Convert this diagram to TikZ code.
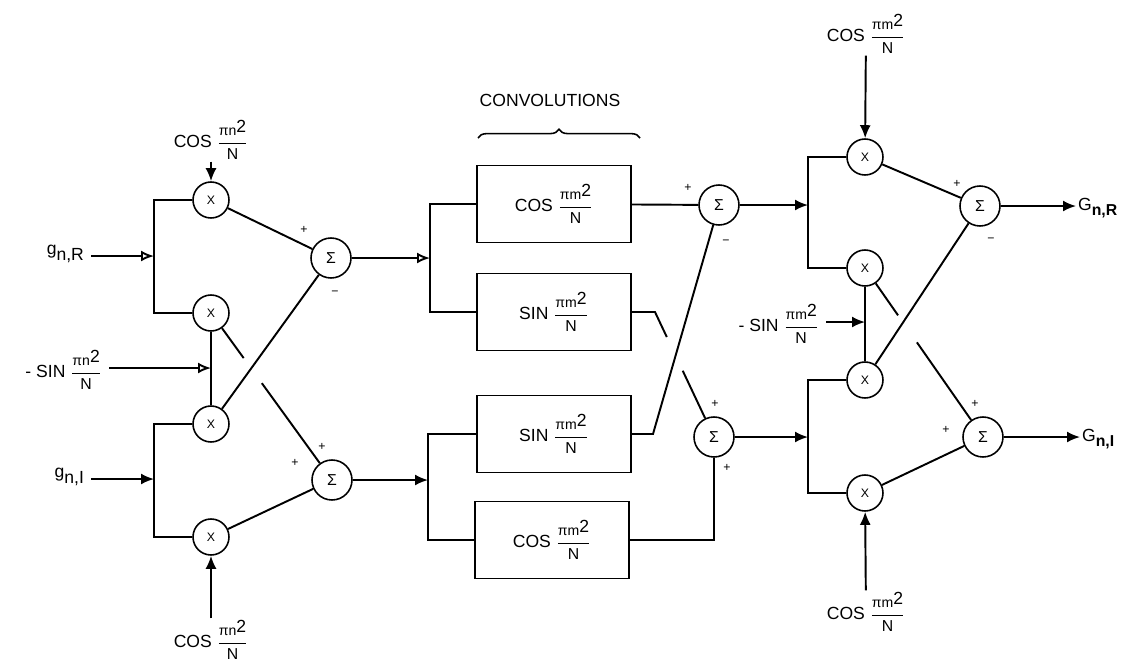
\documentclass[tikz,border=0pt]{standalone}
\usepackage{fontspec}
\usepackage{amsmath}
\setmainfont{Liberation Sans}
\usetikzlibrary{positioning,arrows.meta,calc,decorations.pathreplacing}

\newcommand{\ang}[1]{$\dfrac{\mbox{\footnotesize #1\raisebox{0.4ex}{\normalsize 2}}}{\mbox{\small N}}$}

\begin{document}
\begin{tikzpicture}[
        x=0.02cm, y=-0.02cm,
        mul/.style={
            circle,
            draw,
            line width=0.9pt,
            minimum size=0.72cm,
            inner sep=0pt,
            font=\scriptsize
        },
        sum/.style={
            circle,
            draw,
            line width=0.9pt,
            minimum size=0.8cm,
            inner sep=0pt,
            font=\small
        },
        box/.style={
            rectangle,
            draw,
            line width=1.1pt,
            minimum width=3.08cm,
            minimum height=1.54cm,
            align=center
        },
        wire/.style={line width=1.1pt},
        arrow/.style={wire, -{Latex[length=2.6mm, width=2.2mm]}},
        oarrow/.style={wire, -{Latex[open, length=2.6mm, width=2.2mm]}},
        sgn/.style={font=\scriptsize, inner sep=0pt},
        lbl/.style={inner sep=1pt}
    ]
    \useasboundingbox (0,0) rectangle (1127,670);

    % input stage
    \node[mul] (m1) at (211,200) {X};
    \node[mul] (m2) at (211,313) {X};
    \node[mul] (m3) at (211,424) {X};
    \node[mul] (m4) at (211,537) {X};
    \node[sum] (s1) at (331,258) {Σ};
    \node[sum] (s2) at (332,480) {Σ};

    \node[lbl] (cT) at (211,140) {COS \ang{πn}};
    \node[lbl] (cB) at (211,640) {COS \ang{πn}};
    \node[lbl, anchor=east] (gR) at (86,254) {g\raisebox{-0.6ex}{n,R}};
    \node[lbl, anchor=east] (gI) at (86,477) {g\raisebox{-0.6ex}{n,I}};
    \node[lbl, anchor=east] (sinL) at (104,370) {- SIN \ang{πn}};

    \coordinate (jR) at (154,256);
    \coordinate (jI) at (154,479);
    \coordinate (jS) at (211,368);

    \draw[arrow] (cT) -- (m1);
    \draw[arrow] (cB) -- (m4);
    \draw[wire] (m1) -| (jR) |- (m2);
    \draw[wire] (m3) -| (jI) |- (m4);
    \draw[oarrow, shorten <=3pt] (gR.east |- jR) -- (jR);
    \draw[arrow, shorten <=3pt] (gI.east |- jI) -- (jI);
    \draw[wire] (m2) -- (m3);
    \draw[oarrow, shorten <=3pt] (sinL.east |- jS) -- (jS);

    \draw[wire] (m1) -- (s1);
    \draw[wire] (m3) -- (s1);
    \draw[wire] (m2) -- ($(m2)!0.27!(s2)$);
    \draw[wire] ($(m2)!0.42!(s2)$) -- (s2);
    \draw[wire] (m4) -- (s2);

    \node[sgn] at (304,230) {+};
    \node[sgn] at (335,293) {−};
    \node[sgn] at (322,447) {+};
    \node[sgn] at (295,463) {+};

    % convolutions
    \node[box] (bc1) at (554,204) {COS \ang{πm}};
    \node[box] (bs1) at (554,312) {SIN \ang{πm}};
    \node[box] (bs2) at (554,434) {SIN \ang{πm}};
    \node[box] (bc2) at (552,540) {COS \ang{πm}};
    \node (conv) at (550,100) {CONVOLUTIONS};
    \draw[line width=0.9pt, decorate, decoration={brace, amplitude=5pt}]
        (478,138) -- (640,138);

    \coordinate (jA) at (430,258);
    \coordinate (jB) at (428,480);
    \draw[oarrow] (s1) -- (jA);
    \draw[arrow] (s2) -- (jB);
    \draw[wire] (bc1) -| (jA) |- (bs1);
    \draw[wire] (bs2) -| (jB) |- (bc2);

    \node[sum] (s3) at (719,205) {Σ};
    \node[sum] (s4) at (714,437) {Σ};
    \coordinate (k1) at (655,312);
    \coordinate (k2) at (653,434);

    \draw[wire] (bc1) -- (s3);
    \draw[wire] (bs1) -- (k1) -- ($(k1)!0.2!(s4)$);
    \draw[wire] ($(k1)!0.47!(s4)$) -- (s4);
    \draw[wire] (bs2) -- (k2) -- (s3);
    \draw[wire] (bc2) -| (s4);

    \node[sgn] at (688,188) {+};
    \node[sgn] at (726,242) {−};
    \node[sgn] at (715,404) {+};
    \node[sgn] at (727,468) {+};

    % output stage
    \node[mul] (m5) at (865,157) {X};
    \node[mul] (m6) at (865,268) {X};
    \node[mul] (m7) at (865,380) {X};
    \node[mul] (m8) at (865,493) {X};
    \node[sum] (s5) at (980,206) {Σ};
    \node[sum] (s6) at (983,437) {Σ};

    \node[lbl] (cTR) at (866,34) {COS \ang{πm}};
    \node[lbl] (cBR) at (866,612) {COS \ang{πm}};
    \node[lbl, anchor=east] (sinR) at (821,324) {- SIN \ang{πm}};

    \coordinate (jC) at (808,205);
    \coordinate (jD) at (808,437);
    \coordinate (jS2) at (865,322);

    \draw[arrow] (s3) -- (jC);
    \draw[arrow] (s4) -- (jD);
    \draw[wire] (m5) -| (jC) |- (m6);
    \draw[wire] (m7) -| (jD) |- (m8);
    \draw[arrow] (cTR) -- (m5);
    \draw[arrow] (cBR) -- (m8);
    \draw[wire] (m6) -- (m7);
    \draw[arrow, shorten <=3pt] (sinR.east |- jS2) -- (jS2);

    \draw[wire] (m5) -- (s5);
    \draw[wire] (m7) -- (s5);
    \draw[wire] (m6) -- ($(m6)!0.28!(s6)$);
    \draw[wire] ($(m6)!0.44!(s6)$) -- (s6);
    \draw[wire] (m8) -- (s6);

    \node[sgn] at (957,184) {+};
    \node[sgn] at (991,240) {−};
    \node[sgn] at (975,404) {+};
    \node[sgn] at (946,430) {+};

    \node[lbl, anchor=west] (GR) at (1076,208) {G\raisebox{-0.6ex}{\small\bfseries n,R}};
    \node[lbl, anchor=west] (GI) at (1080,439) {G\raisebox{-0.6ex}{\small\bfseries n,I}};
    \draw[arrow] (s5) -- (GR.west |- s5);
    \draw[arrow] (s6) -- (GI.west |- s6);

    \end{tikzpicture}
\end{document}
